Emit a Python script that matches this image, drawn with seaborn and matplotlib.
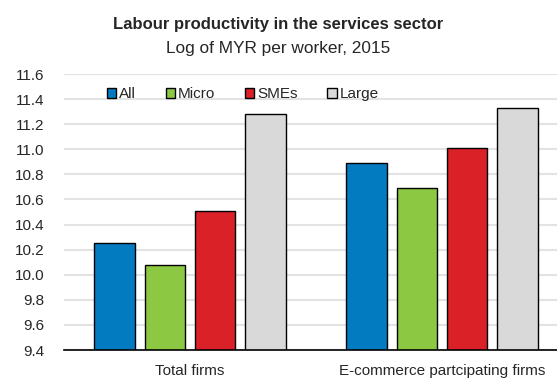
import matplotlib
matplotlib.use("Agg")
import matplotlib.pyplot as plt
import seaborn as sns
import pandas as pd

groups = ["Total firms", "E-commerce partcipating firms"]
sizes = ["All", "Micro", "SMEs", "Large"]
total_vals = [10.25, 10.08, 10.51, 11.28]
ecom_vals = [10.89, 10.69, 11.01, 11.33]
colors = ["#037BC1", "#8CC841", "#DA2128", "#D9D9D9"]
yticks = [9.4, 9.6, 9.8, 10.0, 10.2, 10.4, 10.6, 10.8, 11.0, 11.2, 11.4, 11.6]

rows = []
for g, vals in zip(groups, [total_vals, ecom_vals]):
    for s, v in zip(sizes, vals):
        rows.append({"group": g, "size": s, "value": v})
df = pd.DataFrame(rows)

sns.set_theme(style="white")
plt.rcParams["font.family"] = ["Liberation Sans", "DejaVu Sans"]

fig = plt.figure(figsize=(5.57, 3.82), dpi=100)
ax = fig.add_axes([64 / 557, 32 / 382, 1 - 64 / 557, (350 - 74) / 382])

sns.barplot(data=df, x="group", y="value", hue="size", order=groups,
            hue_order=sizes, palette=colors, width=0.8, gap=0.2,
            edgecolor="black", linewidth=1.0, ax=ax, saturation=1, zorder=3)

ax.set_ylim(9.4, 11.6)
ax.set_xlim(-0.5, 1.5 - 11 / 252)
ax.set_yticks(yticks)
ax.set_yticklabels([f"{t:.1f}" for t in yticks], fontsize=11)
ax.tick_params(axis="x", labelsize=11, length=0, pad=10)
ax.tick_params(axis="y", length=0, pad=14)
ax.set_xlabel("")
ax.set_ylabel("")
ax.grid(axis="y", color="#E3E3E3", linewidth=1.5, zorder=0)
ax.set_axisbelow(True)
for side in ["left", "right", "top"]:
    ax.spines[side].set_visible(False)
ax.spines["bottom"].set_color("black")
ax.spines["bottom"].set_linewidth(1.2)
ax.spines["bottom"].set_zorder(5)

handles, labels = ax.get_legend_handles_labels()
leg = ax.legend(handles, labels, loc="upper left", bbox_to_anchor=(0.065, 0.99),
                ncol=4, frameon=False, fontsize=11, handlelength=0.6,
                handleheight=0.6, handletextpad=0.2, columnspacing=1.95,
                borderaxespad=0.3)
for h in leg.legend_handles:
    h.set_edgecolor("black")
    h.set_linewidth(1.0)

fig.text(0.5, 1 - 25 / 382, "Labour productivity in the services sector",
         ha="center", va="center", fontsize=12, fontweight="bold")
fig.text(0.5, 1 - 48 / 382, "Log of MYR per worker, 2015",
         ha="center", va="center", fontsize=12.4)

fig.savefig("out.png", dpi=100)
